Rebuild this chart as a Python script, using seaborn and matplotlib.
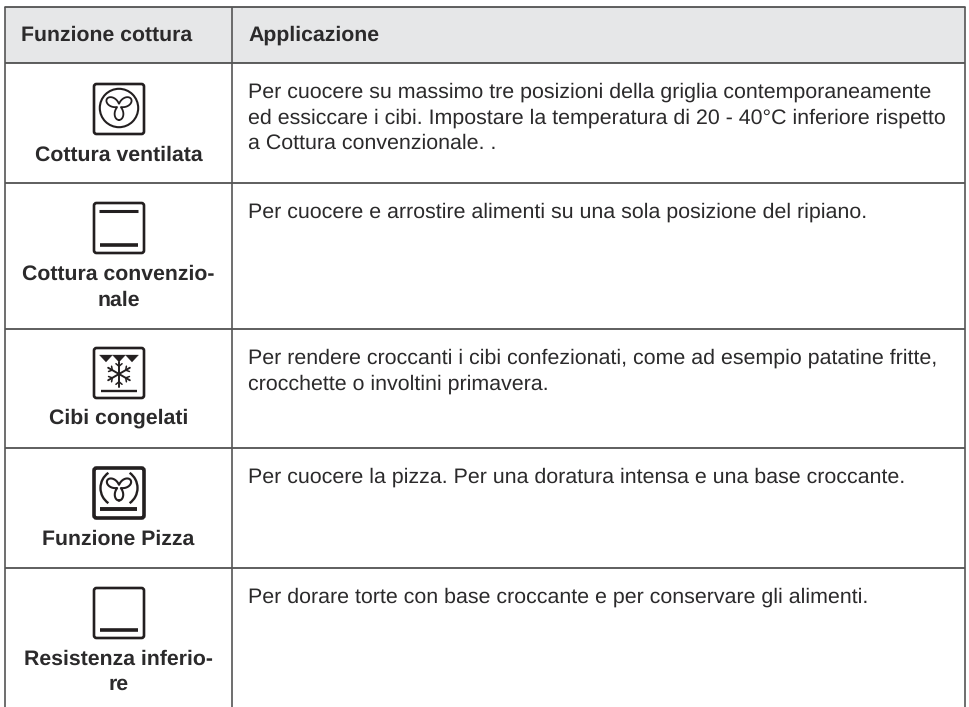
import numpy as np
import pandas as pd
import seaborn as sns
import matplotlib
matplotlib.use("Agg")
import matplotlib.pyplot as plt
from matplotlib.patches import FancyBboxPatch, Circle, Polygon, Arc

sns.set_theme(style="white")
plt.rcParams['font.family'] = ['Liberation Sans', 'DejaVu Sans']
plt.rcParams['text.hinting'] = 'no_hinting'
plt.rcParams['text.hinting_factor'] = 8

headers = ["Funzione cottura", "Applicazione"]
functions = [["Cottura ventilata"], ["Cottura convenzio-", "nale"], ["Cibi congelati"],
             ["Funzione Pizza"], ["Resistenza inferio-", "re"]]
label_baselines = [[161], [280, 306], [424], [545], [665, 690]]
applications = [
    ["Per cuocere su massimo tre posizioni della griglia contemporaneamente",
     "ed essiccare i cibi. Impostare la temperatura di 20 - 40°C inferiore rispetto",
     "a Cottura convenzionale. ."],
    ["Per cuocere e arrostire alimenti su una sola posizione del ripiano."],
    ["Per rendere croccanti i cibi confezionati, come ad esempio patatine fritte,",
     "crocchette o involtini primavera."],
    ["Per cuocere la pizza. Per una doratura intensa e una base croccante."],
    ["Per dorare torte con base croccante e per conservare gli alimenti."],
]
row_lines = [7, 63, 183, 329, 448, 568]
col_lines = [5, 232, 965]
bottom = 707
icon_tops = [83, 202, 347, 467, 587]
kinds = ["fan", "both", "frozen", "pizza", "bottom"]

INK = "#231f20"
TXT = "#2b2a2b"
fig = plt.figure(figsize=(9.70, 7.07), dpi=100, facecolor="white")
ax = fig.add_axes([0, 0, 1, 1])
ax.set_xlim(0, 970)
ax.set_ylim(707, 0)
ax.axis("off")

ax.fill_between([col_lines[0], col_lines[2]], row_lines[0], row_lines[1], color="#e6e7e8", lw=0, zorder=0)
sns.lineplot(x=[col_lines[0], col_lines[2]], y=[row_lines[0]] * 2, ax=ax, color="#444444", lw=1.2)
for y in row_lines[1:]:
    ax.plot([col_lines[0], col_lines[2]], [y, y], color="#333333", lw=1.1, solid_capstyle="butt")
for x in col_lines:
    ax.plot([x, x], [row_lines[0], bottom], color="#555555", lw=1.2, solid_capstyle="butt")

ax.text(21, 41, headers[0], fontsize=15.35, fontweight="bold", color=TXT, va="baseline", ha="left")
ax.text(248, 41, headers[1], fontsize=15.35, fontweight="bold", color=TXT, va="baseline", ha="left")


def fan(cx, cy, R, lw=1.3):
    phi = np.linspace(0, 2 * np.pi, 721)
    r = R * (0.16 + 0.84 * np.abs(np.cos(1.5 * phi)) ** 1.7)
    ang = phi + np.pi / 2
    ax.plot(cx + r * np.cos(ang), cy + r * np.sin(ang), color=INK, lw=lw)


def icon(top, kind):
    left, size = 93, 52
    lw = 2.6 if kind == "pizza" else 1.9
    ax.add_patch(FancyBboxPatch((left + 1, top + 1), size - 2, size - 2,
                                boxstyle="round,pad=0,rounding_size=2.5", fill=False, ec=INK, lw=lw))
    cx, cy = left + size / 2, top + size / 2
    if kind == "both":
        ax.plot([left + 6.5, left + size - 6.5], [top + 9] * 2, color=INK, lw=2.2, solid_capstyle="butt")
    if kind in ("both", "bottom"):
        ax.plot([left + 7, left + size - 7], [top + size - 9] * 2, color=INK, lw=2.6, solid_capstyle="butt")
    if kind == "fan":
        ax.add_patch(Circle((cx, cy - 1), 19.2, fill=False, ec=INK, lw=1.5))
        fan(cx, cy - 3, 14)
    if kind == "frozen":
        for i in range(3):
            x0 = left + 6.5 + i * 13
            ax.add_patch(Polygon([(x0, top + 8), (x0 + 13, top + 8), (x0 + 6.5, top + 15)], fc=INK, ec=INK, lw=0.2))
        sy = top + 27
        for deg in range(0, 180, 60):
            a = np.deg2rad(deg + 90)
            dx, dy = 12.5 * np.cos(a), 12.5 * np.sin(a)
            ax.plot([cx - dx, cx + dx], [sy - dy, sy + dy], color=INK, lw=1.4)
            for s in (-1, 1):
                bx, by = cx + s * dx * 0.62, sy + s * dy * 0.62
                for off in (-50, 50):
                    b = a + np.deg2rad(off)
                    ax.plot([bx, bx + s * 4 * np.cos(b)], [by, by + s * 4 * np.sin(b)], color=INK, lw=1.1)
        ax.plot([left + 8, left + size - 8], [top + 44] * 2, color=INK, lw=1.7, solid_capstyle="butt")
    if kind == "pizza":
        cy2 = top + 20
        fan(cx, cy2, 13.5, lw=1.5)
        ax.add_patch(Arc((cx, cy2 + 1), 37, 37, theta1=125, theta2=235, ec=INK, lw=1.7))
        ax.add_patch(Arc((cx, cy2 + 1), 37, 37, theta1=-55, theta2=55, ec=INK, lw=1.7))
        ax.plot([left + 7.5, left + size - 7.5], [top + 42] * 2, color=INK, lw=2.8, solid_capstyle="butt")


for i in range(5):
    icon(icon_tops[i], kinds[i])
    for line, base in zip(functions[i], label_baselines[i]):
        ax.text(118.5, base, line, fontsize=15.3, fontweight="bold", color=TXT, ha="center", va="baseline")
    for j, line in enumerate(applications[i]):
        ax.text(248, row_lines[i + 1] + 34.5 + 25.7 * j, line, fontsize=15.42, color=TXT, ha="left", va="baseline")

fig.savefig("out.png", dpi=100)
